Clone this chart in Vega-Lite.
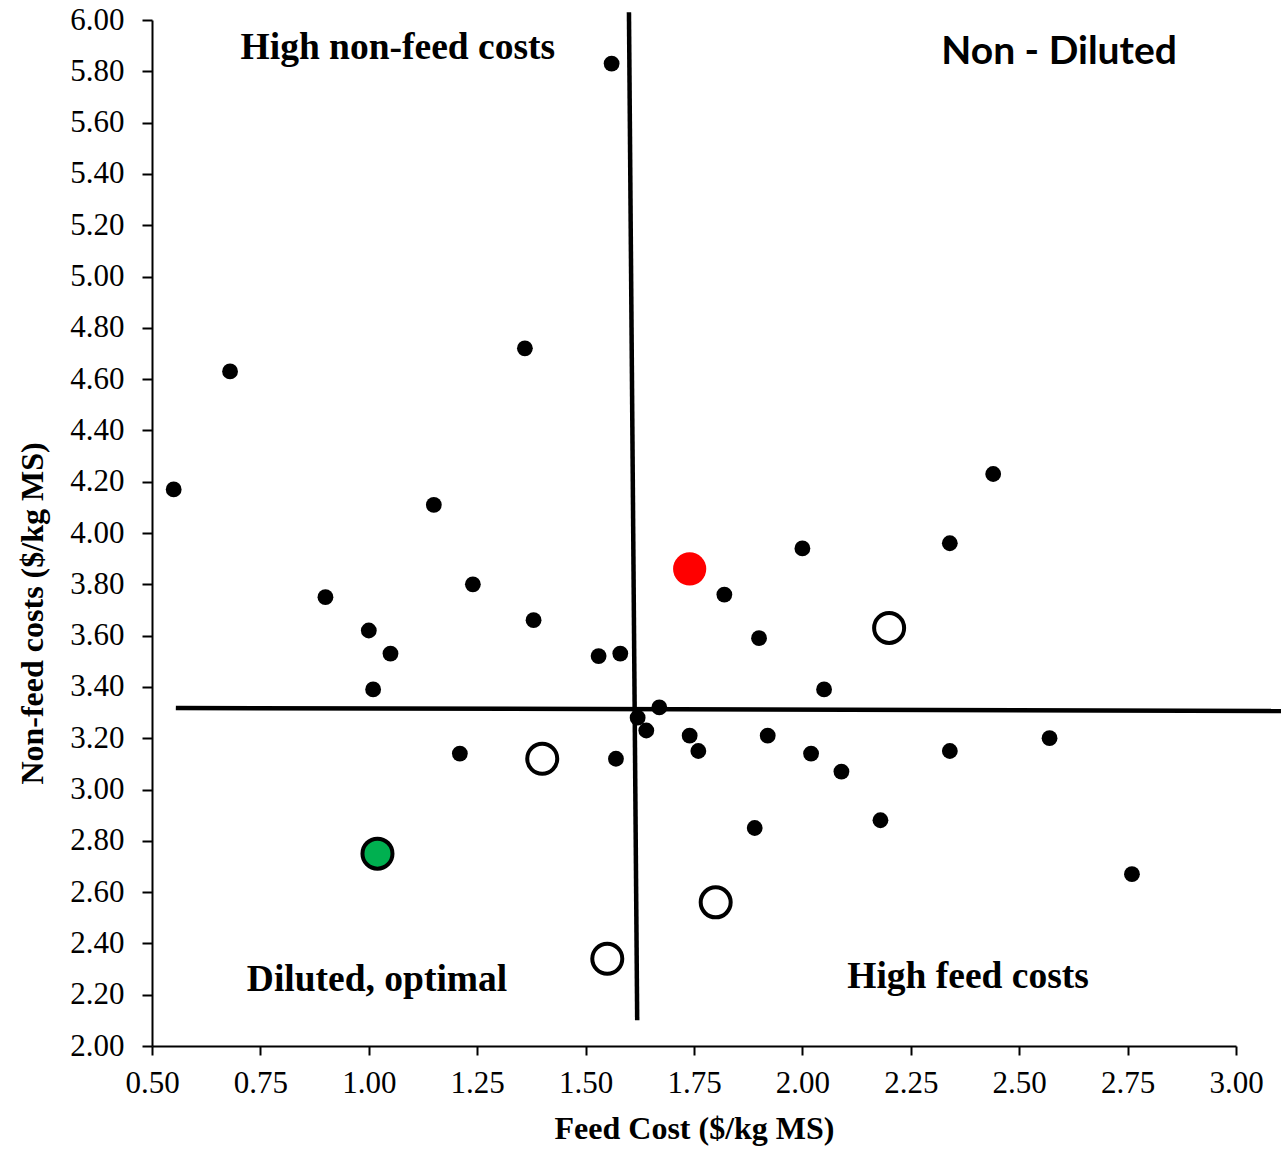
{
  "$schema": "https://vega.github.io/schema/vega-lite/v6.json",
  "width": 1084,
  "height": 1026,
  "autosize": {"type": "none"},
  "padding": {"left": 152, "top": 20, "right": 45, "bottom": 103},
  "background": "white",
  "config": {
    "view": {"stroke": null},
    "axis": {
      "grid": false,
      "domainColor": "black",
      "domainWidth": 2,
      "tickColor": "black",
      "tickWidth": 2,
      "labelColor": "black",
      "titleColor": "black",
      "labelFont": "Liberation Serif",
      "titleFont": "Liberation Serif",
      "labelFontSize": 31,
      "titleFontSize": 32,
      "titleFontWeight": "bold",
      "labelFlush": false,
      "labelOverlap": false
    }
  },
  "datasets": {
    "small": [
      {"x": 1.56, "y": 5.83}, {"x": 0.68, "y": 4.63}, {"x": 1.36, "y": 4.72},
      {"x": 0.55, "y": 4.17}, {"x": 1.15, "y": 4.11}, {"x": 2.44, "y": 4.23},
      {"x": 2.34, "y": 3.96}, {"x": 2.00, "y": 3.94}, {"x": 1.24, "y": 3.80},
      {"x": 1.82, "y": 3.76}, {"x": 0.90, "y": 3.75}, {"x": 1.38, "y": 3.66},
      {"x": 1.00, "y": 3.62}, {"x": 1.90, "y": 3.59}, {"x": 1.05, "y": 3.53},
      {"x": 1.53, "y": 3.52}, {"x": 1.58, "y": 3.53}, {"x": 1.01, "y": 3.39},
      {"x": 2.05, "y": 3.39}, {"x": 1.67, "y": 3.32}, {"x": 1.62, "y": 3.28},
      {"x": 1.64, "y": 3.23}, {"x": 1.74, "y": 3.21}, {"x": 1.92, "y": 3.21},
      {"x": 2.57, "y": 3.20}, {"x": 1.76, "y": 3.15}, {"x": 2.34, "y": 3.15},
      {"x": 1.21, "y": 3.14}, {"x": 2.02, "y": 3.14}, {"x": 1.57, "y": 3.12},
      {"x": 2.09, "y": 3.07}, {"x": 2.18, "y": 2.88}, {"x": 1.89, "y": 2.85},
      {"x": 2.76, "y": 2.67}
    ],
    "open": [
      {"x": 2.20, "y": 3.63}, {"x": 1.40, "y": 3.12}, {"x": 1.80, "y": 2.56}, {"x": 1.55, "y": 2.34}
    ],
    "red": [{"x": 1.74, "y": 3.86}],
    "green": [{"x": 1.02, "y": 2.75}],
    "vline": [{"x": 1.600, "y": 6.03}, {"x": 1.619, "y": 2.10}],
    "hline": [{"x": 0.555, "y": 3.318}, {"x": 3.104, "y": 3.306}],
    "serifLabels": [
      {"x": 1.067, "y": 5.89, "t": "High non-feed costs"},
      {"x": 1.019, "y": 2.257, "t": "Diluted, optimal"},
      {"x": 2.382, "y": 2.269, "t": "High feed costs"}
    ],
    "sansLabels": [
      {"x": 2.592, "y": 5.875, "t": "Non - Diluted"}
    ]
  },
  "encoding": {
    "x": {
      "field": "x", "type": "quantitative",
      "scale": {"domain": [0.5, 3.0], "nice": false, "zero": false},
      "axis": {
        "title": "Feed Cost ($/kg MS)",
        "values": [0.5, 0.75, 1.0, 1.25, 1.5, 1.75, 2.0, 2.25, 2.5, 2.75, 3.0],
        "format": ".2f",
        "tickSize": 9,
        "labelPadding": 13,
        "titleY": 82,
        "titleBaseline": "middle"
      }
    },
    "y": {
      "field": "y", "type": "quantitative",
      "scale": {"domain": [2.0, 6.0], "nice": false, "zero": false},
      "axis": {
        "title": "Non-feed costs ($/kg MS)",
        "values": [2.0, 2.2, 2.4, 2.6, 2.8, 3.0, 3.2, 3.4, 3.6, 3.8, 4.0, 4.2, 4.4, 4.6, 4.8, 5.0, 5.2, 5.4, 5.6, 5.8, 6.0],
        "format": ".2f",
        "tickSize": 10,
        "labelPadding": 18,
        "titleX": -120,
        "titleY": 593,
        "titleBaseline": "middle"
      }
    }
  },
  "layer": [
    {
      "data": {"name": "vline"},
      "mark": {"type": "line", "color": "black", "strokeWidth": 4.5, "clip": false}
    },
    {
      "data": {"name": "hline"},
      "mark": {"type": "line", "color": "black", "strokeWidth": 4.5, "clip": false}
    },
    {
      "data": {"name": "small"},
      "mark": {"type": "circle", "color": "black", "opacity": 1, "size": 250}
    },
    {
      "data": {"name": "open"},
      "mark": {"type": "point", "shape": "circle", "filled": true, "fill": "white", "stroke": "black", "strokeWidth": 4, "opacity": 1, "size": 900}
    },
    {
      "data": {"name": "red"},
      "mark": {"type": "circle", "color": "#FF0000", "opacity": 1, "size": 1100}
    },
    {
      "data": {"name": "green"},
      "mark": {"type": "point", "shape": "circle", "filled": true, "fill": "#00B050", "stroke": "black", "strokeWidth": 4, "opacity": 1, "size": 900}
    },
    {
      "data": {"name": "serifLabels"},
      "mark": {"type": "text", "font": "Liberation Serif", "fontWeight": "bold", "fontSize": 37.5, "color": "black", "align": "center", "baseline": "middle"},
      "encoding": {"text": {"field": "t"}}
    },
    {
      "data": {"name": "sansLabels"},
      "mark": {"type": "text", "font": "Lato", "fontWeight": "bold", "fontSize": 39, "color": "black", "align": "center", "baseline": "middle"},
      "encoding": {"text": {"field": "t"}}
    }
  ]
}
